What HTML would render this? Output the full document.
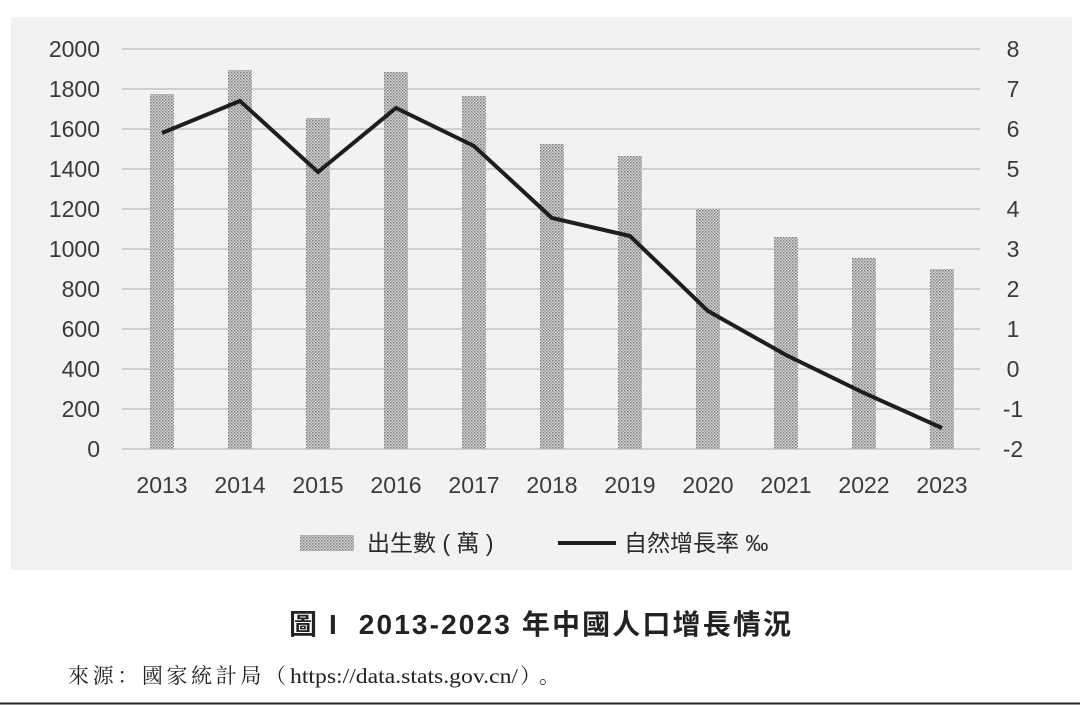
<!DOCTYPE html>
<html><head><meta charset="utf-8"><style>
html,body{margin:0;padding:0;background:#fff;width:1080px;height:705px;overflow:hidden}
</style></head><body>
<svg width="1080" height="705" xmlns="http://www.w3.org/2000/svg" font-family="'Liberation Sans','Noto Sans CJK TC',sans-serif">
<defs>
<pattern id="dots" width="3" height="3" patternUnits="userSpaceOnUse">
<rect width="3" height="3" fill="#d8d8d8"/>
<rect x="0" y="0" width="1.5" height="1.5" fill="#7a7a7a"/>
<rect x="1.5" y="1.5" width="1.5" height="1.5" fill="#9a9a9a"/>
</pattern>
</defs>
<rect x="11" y="17" width="1061" height="553" fill="#f1f2f3"/>
<g stroke="#cfcfcf" stroke-width="2">
<line x1="122" x2="980" y1="49" y2="49"/><line x1="122" x2="980" y1="89" y2="89"/>
<line x1="122" x2="980" y1="129" y2="129"/><line x1="122" x2="980" y1="169" y2="169"/>
<line x1="122" x2="980" y1="209" y2="209"/><line x1="122" x2="980" y1="249" y2="249"/>
<line x1="122" x2="980" y1="289" y2="289"/><line x1="122" x2="980" y1="329" y2="329"/>
<line x1="122" x2="980" y1="369" y2="369"/><line x1="122" x2="980" y1="409" y2="409"/>
<line x1="122" x2="980" y1="449" y2="449"/>
</g>
<g fill="#3a3a3a" font-size="23" text-anchor="end">
<text x="100" y="57">2000</text><text x="100" y="97">1800</text><text x="100" y="137">1600</text>
<text x="100" y="177">1400</text><text x="100" y="217">1200</text><text x="100" y="257">1000</text>
<text x="100" y="297">800</text><text x="100" y="337">600</text><text x="100" y="377">400</text>
<text x="100" y="417">200</text><text x="100" y="457">0</text>
</g>
<g fill="#3a3a3a" font-size="23" text-anchor="middle">
<text x="1013" y="57">8</text><text x="1013" y="97">7</text><text x="1013" y="137">6</text>
<text x="1013" y="177">5</text><text x="1013" y="217">4</text><text x="1013" y="257">3</text>
<text x="1013" y="297">2</text><text x="1013" y="337">1</text><text x="1013" y="377">0</text>
<text x="1013" y="417">-1</text><text x="1013" y="457">-2</text>
</g>
<g fill="url(#dots)">
<rect x="150" y="94" width="24" height="355"/><rect x="228" y="70" width="24" height="379"/>
<rect x="306" y="118" width="24" height="331"/><rect x="384" y="72" width="24" height="377"/>
<rect x="462" y="96" width="24" height="353"/><rect x="540" y="144" width="24" height="305"/>
<rect x="618" y="156" width="24" height="293"/><rect x="696" y="209" width="24" height="240"/>
<rect x="774" y="237" width="24" height="212"/><rect x="852" y="258" width="24" height="191"/>
<rect x="930" y="269" width="24" height="180"/>
</g>
<polyline fill="none" stroke="#1e1e1e" stroke-width="4" stroke-linejoin="miter"
points="162,133 240,101 318,172 396,108 474,146 552,218 630,236 708,311 786,355 864,393 942,428"/>
<g fill="#3a3a3a" font-size="23" text-anchor="middle">
<text x="162" y="493">2013</text><text x="240" y="493">2014</text><text x="318" y="493">2015</text>
<text x="396" y="493">2016</text><text x="474" y="493">2017</text><text x="552" y="493">2018</text>
<text x="630" y="493">2019</text><text x="708" y="493">2020</text><text x="786" y="493">2021</text>
<text x="864" y="493">2022</text><text x="942" y="493">2023</text>
</g>
<rect x="300" y="535" width="54" height="16" fill="url(#dots)"/>
<text x="367" y="551" font-size="23" fill="#2a2a2a">出生數 ( 萬 )</text>
<line x1="558" x2="616" y1="543" y2="543" stroke="#1e1e1e" stroke-width="4"/>
<text x="624" y="551" font-size="23" fill="#2a2a2a">自然增長率 ‰</text>
<text x="289" y="634" font-size="28" font-weight="bold" fill="#222" textLength="502" lengthAdjust="spacing">圖&#160;I&#160;&#160;2013-2023&#160;年中國人口增長情況</text>
<g font-size="21" fill="#222" font-family="'Liberation Serif','Noto Serif CJK SC',serif">
<text x="68" y="683" textLength="218" lengthAdjust="spacing">來源：國家統計局（</text>
<text x="290" y="683" textLength="228" lengthAdjust="spacingAndGlyphs">https://data.stats.gov.cn/</text>
<text x="520" y="683" textLength="40" lengthAdjust="spacing">）。</text>
</g>
<line x1="0" x2="1080" y1="703.5" y2="703.5" stroke="#222" stroke-width="2"/>
</svg>
</body></html>
